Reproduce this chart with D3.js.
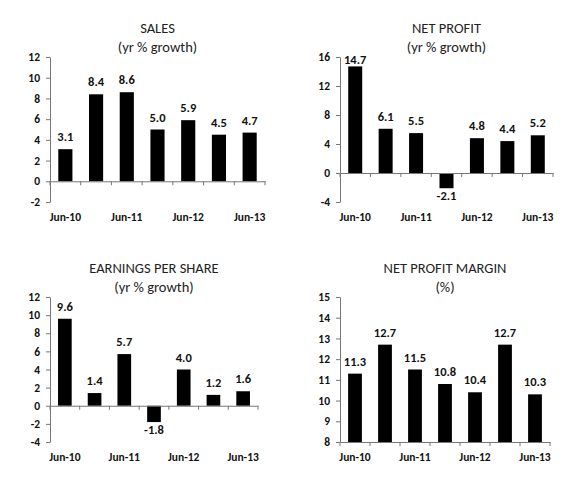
<!DOCTYPE html>
<html><head><meta charset="utf-8">
<script src="https://cdn.jsdelivr.net/npm/d3@7"></script>
<style>body{margin:0;background:#fff}svg{display:block}</style>
</head><body>
<svg id="c" width="580" height="484"></svg>
<script>
const categories = ["Jun-10","Dec-10","Jun-11","Dec-11","Jun-12","Dec-12","Jun-13"];
const tickLabels = ["Jun-10","","Jun-11","","Jun-12","","Jun-13"];
const salesValues = [3.1, 8.4, 8.6, 5.0, 5.9, 4.5, 4.7];
const netProfitValues = [14.7, 6.1, 5.5, -2.1, 4.8, 4.4, 5.2];
const epsValues = [9.6, 1.4, 5.7, -1.8, 4.0, 1.2, 1.6];
const marginValues = [11.3, 12.7, 11.5, 10.8, 10.4, 12.7, 10.3];
const salesTicks = [-2,0,2,4,6,8,10,12];
const netProfitTicks = [-4,0,4,8,12,16];
const epsTicks = [-4,-2,0,2,4,6,8,10,12];
const marginTicks = [8,9,10,11,12,13,14,15];

const panels = [
  {title:["SALES","(yr % growth)"], values:salesValues, ticks:salesTicks, x0:50, x1:265, yTop:57, yBot:202, ty:28},
  {title:["NET PROFIT","(yr % growth)"], values:netProfitValues, ticks:netProfitTicks, x0:340, x1:553, yTop:57, yBot:202, ty:28},
  {title:["EARNINGS PER SHARE","(yr % growth)"], values:epsValues, ticks:epsTicks, x0:50, x1:258, yTop:297, yBot:442, ty:268},
  {title:["NET PROFIT MARGIN","(%)"], values:marginValues, ticks:marginTicks, x0:340, x1:550, yTop:297, yBot:442, ty:268}
];

const svg = d3.select("#c");
const FONT = "Carlito, Lato, 'Open Sans', sans-serif";
const AX = "#777";
const fmt1 = d => d.toFixed(1);
const fmt0 = d => String(d);

panels.forEach(p => {
  const g = svg.append("g");
  const dom = d3.extent(p.ticks);
  const y = d3.scaleLinear().domain(dom).range([p.yBot, p.yTop]);
  const x = d3.scaleBand().domain(categories).range([p.x0, p.x1]).paddingInner(0.54).paddingOuter(0.27);
  const base = Math.max(0, dom[0]);
  const cx = (p.x0 + p.x1) / 2;

  p.title.forEach((t, i) => {
    g.append("text").attr("x", cx).attr("y", p.ty + i * 19).attr("dy", "0.35em")
      .attr("text-anchor", "middle").attr("font-family", FONT).attr("font-size", 14.5)
      .attr("fill", "#222").text(t);
  });

  g.selectAll("rect").data(p.values).join("rect")
    .attr("x", (d, i) => x(categories[i]))
    .attr("width", x.bandwidth())
    .attr("y", d => y(Math.max(d, base)))
    .attr("height", d => Math.abs(y(d) - y(base)))
    .attr("fill", "#000");

  g.selectAll("text.lbl").data(p.values).join("text").attr("class", "lbl")
    .attr("x", (d, i) => x(categories[i]) + x.bandwidth() / 2)
    .attr("y", d => d >= base ? Math.max(y(d) - 8, p.yTop + 7) : y(d) + 12)
    .attr("text-anchor", "middle").attr("font-family", FONT).attr("font-size", 12.5)
    .attr("font-weight", "bold").attr("fill", "#111")
    .text(fmt1);

  const ya = g.append("g").attr("transform", `translate(${p.x0},0)`)
    .call(d3.axisLeft(y).tickValues(p.ticks).tickSize(4).tickSizeOuter(0).tickPadding(6).tickFormat(fmt0));
  ya.select(".domain").attr("stroke", AX);
  ya.selectAll(".tick line").attr("stroke", AX);
  ya.selectAll(".tick text").attr("font-family", FONT).attr("font-size", 11.5).attr("font-weight", "bold").attr("fill", "#111");

  const y0 = y(base);
  const xa = g.append("g").attr("transform", `translate(0,${y0})`)
    .call(d3.axisBottom(x).tickSize(0).tickFormat(""));
  xa.select(".domain").attr("stroke", AX);
  g.selectAll("line.bt").data(d3.range(categories.length + 1)).join("line").attr("class", "bt")
    .attr("x1", i => x.step() * i + p.x0).attr("x2", i => x.step() * i + p.x0)
    .attr("y1", y0).attr("y2", y0 + 4).attr("stroke", AX);

  g.selectAll("text.cat").data(categories).join("text").attr("class", "cat")
    .attr("x", d => x(d) + x.bandwidth() / 2).attr("y", p.yBot + 15).attr("dy", "0.35em")
    .attr("text-anchor", "middle").attr("font-family", FONT).attr("font-size", 11.5)
    .attr("font-weight", "bold").attr("fill", "#111")
    .text((d, i) => tickLabels[i]);
});
</script>
</body></html>
